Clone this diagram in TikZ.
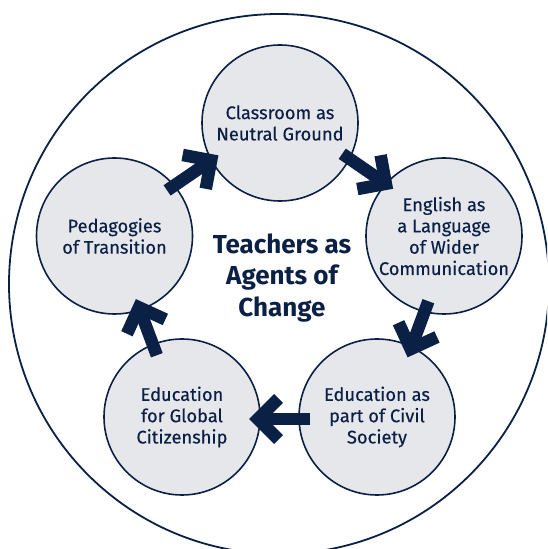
\documentclass[tikz,border=0pt]{standalone}
\usepackage{fontspec}
\setmainfont{Fira Sans}
\usepackage{tikz}
\usetikzlibrary{calc}
\definecolor{marine}{HTML}{0B2045}
\definecolor{lysgraa}{HTML}{E6E7EB}
\tikzset{
    boble/.style={
           circle,
           draw=marine, line width=1.6pt,
           fill=lysgraa,
           minimum size=156pt,
           inner sep=0pt,
           align=center,
           text=marine,
           font=\addfontfeature{FakeBold=0.3}\fontsize{18.3}{21.3}\selectfont},
    midte/.style={
           text=marine,
           align=center,
           font=\bfseries\fontsize{26}{31.5}\selectfont},
    pil/.style={
           draw=marine,
           line width=12.5pt,
           line join=miter}
}

\begin{document}
\begin{tikzpicture}[x=1pt, y=1pt]
        \useasboundingbox (0,0) rectangle (547,549);
        \clip (0,0) rectangle (547,549);
        \draw[marine, line width=1.8pt] (279,265) circle (270);
        % the five themes, clockwise from the top
        \node[boble] (cls) at (280,426) {Classroom as\\Neutral Ground};
        \node[boble] (eng) at (444,313) {English as\\a Language\\of Wider\\Communication};
        \node[boble] (civ) at (377,132) {Education as\\part of Civil\\Society};
        \node[boble] (glb) at (182,132) {Education\\for Global\\Citizenship};
        \node[boble] (ped) at (114.5,313) {Pedagogies\\of Transition};
        \node[midte] (mid) at (282,271) {Teachers as\\Agents of\\Change};
        % thick arrows, pushed a little outwards
        \foreach \a/\b/\s in {ped/cls/8, cls/eng/10, eng/civ/8, civ/glb/2, glb/ped/2}{
            \coordinate (hale) at ($(\a)!0.345!(\b)!\s pt!90:(\b)$);
            \coordinate (spiss) at ($(\a)!0.655!(\b)!\s pt!90:(\b)$);
            \coordinate (knekk) at ($(spiss)!8.8pt!(hale)$);
            \draw[pil] (hale) -- (knekk);
            \draw[pil] ($(knekk)!29pt!45:(hale)$) -- (knekk) -- ($(knekk)!29pt!-45:(hale)$);
        }
\end{tikzpicture}
\end{document}
